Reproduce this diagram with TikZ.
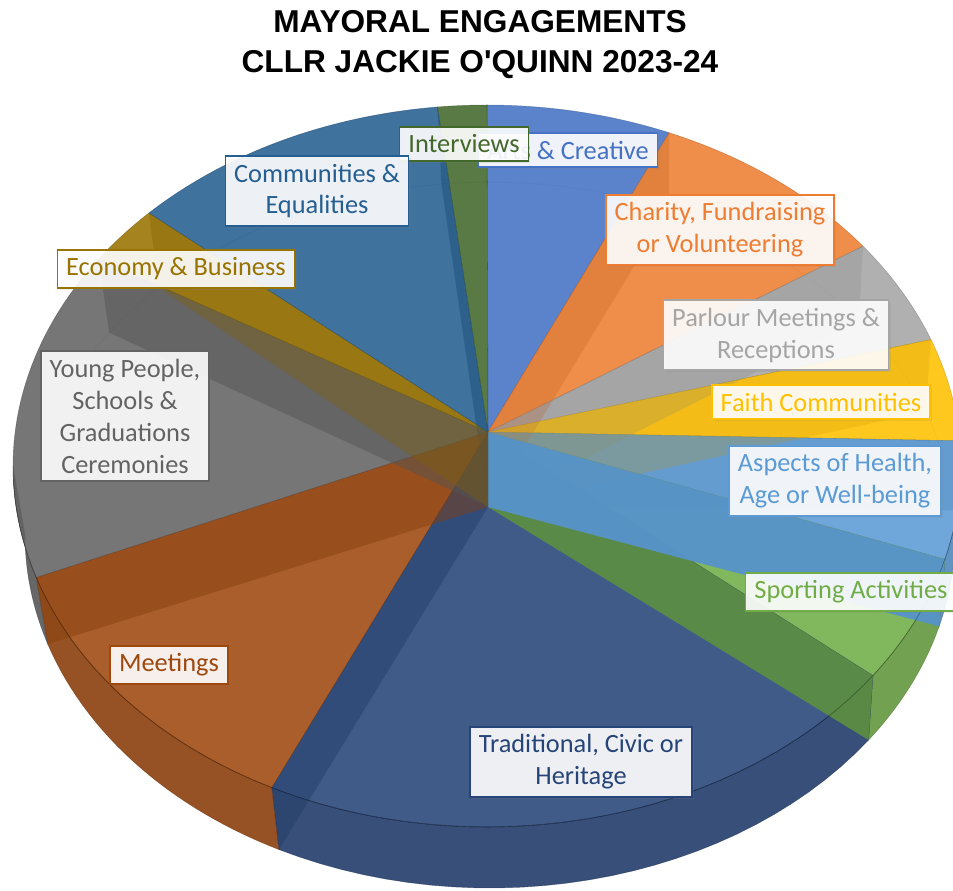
\documentclass[tikz,border=0pt]{standalone}
\usepackage{fontspec}
\newfontfamily\lblfont{Carlito}
\newfontfamily\ttlfont{Liberation Sans}
\usetikzlibrary{shadows}

\definecolor{cArts}{HTML}{4472C4}
\definecolor{cCharity}{HTML}{ED7D31}
\definecolor{cParlour}{HTML}{A5A5A5}
\definecolor{cFaith}{HTML}{FFC000}
\definecolor{cHealth}{HTML}{5B9BD5}
\definecolor{cSport}{HTML}{70AD47}
\definecolor{cTrad}{HTML}{264478}
\definecolor{cMeet}{HTML}{9E480E}
\definecolor{cYoung}{HTML}{636363}
\definecolor{cEcon}{HTML}{997300}
\definecolor{cComm}{HTML}{255E91}
\definecolor{cInterv}{HTML}{43682B}

\tikzset{
    lbl/.style={draw=#1, text=#1, fill=white, fill opacity=0.9, text opacity=1,
        line width=0.9pt, align=center, inner xsep=5pt, inner ysep=4.3pt,
        font=\lblfont\fontsize{15}{18.2}\selectfont,
        drop shadow={opacity=0.15, shadow xshift=1.2pt, shadow yshift=-1.2pt}},
    topface/.style={fill=#1, fill opacity=0.88, draw=#1!70!black, draw opacity=0.5, line width=0.3pt},
    wallface/.style={fill=#1!88!black, fill opacity=0.9, draw=#1!60!black, draw opacity=0.5, line width=0.3pt},
}

\begin{document}
\begin{tikzpicture}[x=0.02cm, y=-0.02cm,
    declare function={tx(\p)=487+474*cos(\p); ty(\p)=466-361*sin(\p);
                      bx(\p)=490+465*cos(\p); by(\p)=535-353*sin(\p);}]
    \useasboundingbox (0,0) rectangle (953,890);
    \clip (0,0) rectangle (953,890);

    % front side of the pie
    \foreach \ta/\tb/\col in {0/-15/cHealth, -15/-35.5/cSport, -35.5/-117/cTrad,
                              -117/-162/cMeet, -162/-180/cYoung} {
        \path[wallface=\col] plot[domain=\ta:\tb, samples=30] ({tx(\x)}, {ty(\x)})
            -- plot[domain=\tb:\ta, samples=30] ({bx(\x)}, {by(\x)}) -- cycle;
    }
    \draw[black, opacity=0.15, line width=0.4pt] plot[domain=15:165, samples=40] ({bx(\x)}, {by(\x)});

    % slices
    \foreach \ta/\tb/\col in {90/67.4/cArts, 67.4/37.5/cCharity, 37.5/20.5/cParlour,
                              20.5/4/cFaith, 4/-15/cHealth, -15/-35.5/cSport,
                              -35.5/-117/cTrad, -117/-162/cMeet, -162/-215/cYoung,
                              -215/-224.5/cEcon, -224.5/-264/cComm, -264/-270/cInterv} {
        \path[topface=\col] (488,432) -- plot[domain=\ta:\tb, samples=40] ({tx(\x)}, {ty(\x)}) -- cycle;
    }

    % cut faces seen through the top
    \foreach \bt/\col/\op in {-264/cComm!85!black/0.5, 67.4/cCharity!85!black/0.35,
                              37.5/cParlour!85!black/0.3, 20.5/cFaith!85!black/0.3,
                              4/cHealth!85!black/0.3, -35.5/cSport!85!black/0.85,
                              -15/cHealth!95!black/0.95, -117/cTrad!85!black/0.45,
                              -162/cMeet!85!black/0.45, -215/cYoung!85!black/0.5,
                              -224.5/cEcon!85!black/0.35} {
        \fill[\col, fill opacity=\op] (488,432) -- ({tx(\bt)}, {ty(\bt)})
            -- ({bx(\bt)}, {by(\bt)}) -- (488,507) -- cycle;
    }
    \draw[black, opacity=0.3, line width=0.4pt] plot[domain=-5:-178, samples=60] ({tx(\x)}, {ty(\x)});

    % labels
    \node[lbl=cArts] (arts) at (568,150) {Arts \& Creative};
    \node[lbl=cInterv] (interv) at (464,144) {Interviews};
    \node[lbl=cComm] (comm) at (317,191) {Communities \&\\Equalities};
    \node[lbl=cEcon] (econ) at (176,269) {Economy \& Business};
    \node[lbl=cYoung] (young) at (125,416) {Young People,\\Schools \&\\Graduations\\Ceremonies};
    \node[lbl=cCharity] (charity) at (720,230) {Charity, Fundraising\\or Volunteering};
    \node[lbl=cParlour] (parlour) at (776,335) {Parlour Meetings \&\\Receptions};
    \node[lbl=cFaith] (faith) at (821,402) {Faith Communities};
    \node[lbl=cHealth] (health) at (835,481) {Aspects of Health,\\Age or Well-being};
    \node[lbl=cSport] (sport) at (851,592) {Sporting Activities};
    \node[lbl=cTrad] (trad) at (581,762) {Traditional, Civic or\\Heritage};
    \node[lbl=cMeet] (meet) at (169,665) {Meetings};

    \node[font=\ttlfont\bfseries\fontsize{18}{22.7}\selectfont, align=center] (title) at (480,45)
        {MAYORAL ENGAGEMENTS\\CLLR JACKIE O\textquotesingle QUINN 2023-24};
\end{tikzpicture}
\end{document}
